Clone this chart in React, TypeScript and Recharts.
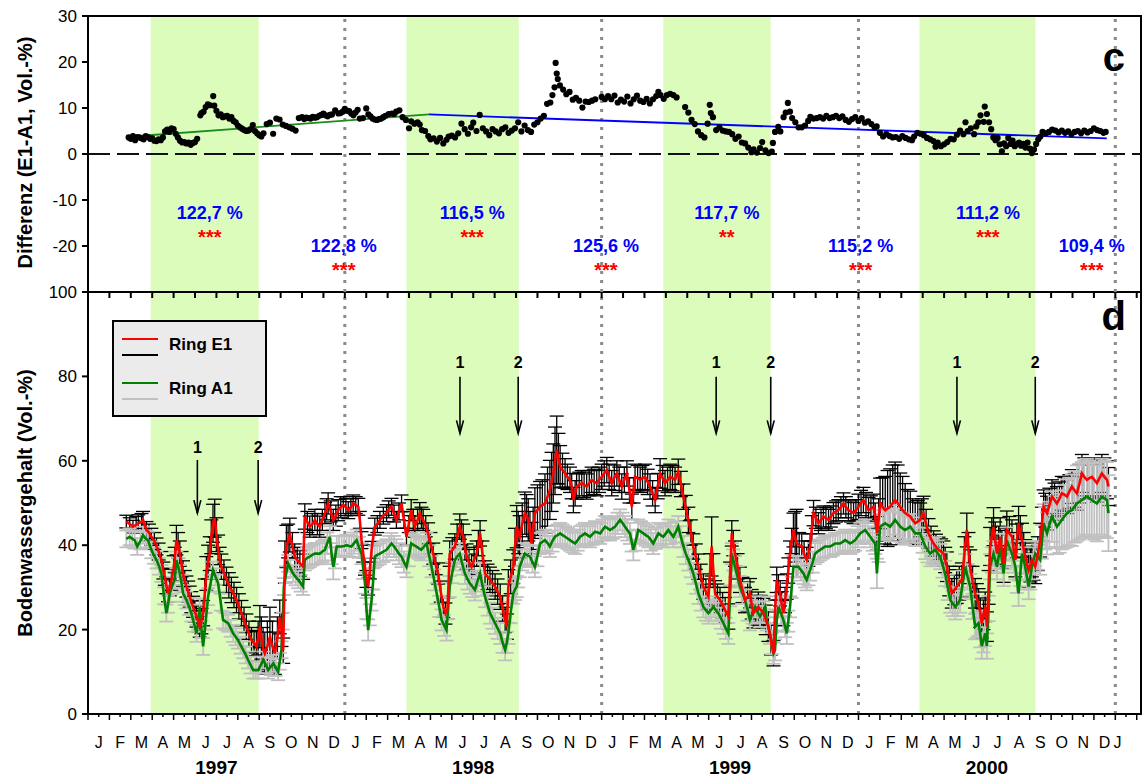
import React from "react";
import {
  ComposedChart,
  Line,
  Scatter,
  XAxis,
  YAxis,
  ReferenceArea,
  ReferenceLine,
  ReferenceDot,
  ErrorBar,
  Legend,
} from "recharts";

const FONT = "'Liberation Sans', Arial, sans-serif";
const W = 1143;
const H = 778;
// x axis: months since 1 Jan 1997
const X_DOMAIN: [number, number] = [0, 49.2];

const seasonStart = [2.93, 14.88, 26.88, 38.85];
const seasonEnd = [7.98, 20.13, 31.9, 44.27];
const yearBreaks = [12, 24, 36, 48];
const monthLetters = ["J", "F", "M", "A", "M", "J", "J", "A", "S", "O", "N", "D"];
const yearLabels = ["1997", "1998", "1999", "2000"];
const yearTicks = [6, 18, 30, 42];
const monthTicks = [...Array.from({ length: 48 }, (_, i) => i + 0.5), 48.1];
const markTicks = Array.from({ length: 99 }, (_, i) => i / 2);
const boundaryTicks = Array.from({ length: 50 }, (_, i) => i);
const bottomTicks = [...markTicks, 48.1].sort((a, b) => a - b);

// panel c: difference E1-A1 [month, Vol.-%]
const diffPoints: [number, number][] = [
  [1.9,3.6],[2.0,3.3],[2.1,3.9],[2.2,3.0],[2.3,3.7],[2.4,3.6],[2.5,3.4],[2.6,3.2],[2.7,3.9],[2.8,3.7],[2.9,3.3],[3.0,3.4],[3.1,2.9],[3.2,2.8],[3.3,3.2],[3.4,3.0],[3.5,3.6],[3.6,4.9],[3.7,5.3],[3.8,4.8],[3.9,5.6],[4.0,5.4],[4.1,4.4],[4.2,3.6],[4.3,2.9],[4.4,2.5],[4.5,2.6],[4.6,2.3],[4.7,2.5],[4.8,2.0],[4.9,2.4],[5.0,2.6],[5.1,3.3],
  [5.25,8.4],[5.3,8.9],[5.4,9.2],[5.5,10.2],[5.6,10.8],[5.7,10.6],[5.85,12.6],[5.9,10.5],[6.0,9.4],[6.1,8.4],[6.2,8.6],[6.3,8.0],[6.4,8.2],[6.5,8.3],[6.6,7.7],[6.7,8.0],[6.8,7.2],[6.9,6.9],[7.0,6.2],[7.1,5.8],[7.2,5.5],[7.3,5.2],[7.4,5.0],[7.5,5.1],[7.6,5.4],[7.7,6.3],[7.8,5.0],[7.9,4.5],[8.0,4.1],[8.1,3.8],[8.2,4.5],[8.35,6.5],[8.5,6.8],[8.65,4.4],[8.8,7.7],[8.95,7.5],[9.1,6.4],[9.25,6.1],[9.4,5.8],[9.55,5.5],[9.7,5.1],[9.85,7.8],
  [10.0,8.0],[10.1,7.6],[10.2,7.9],[10.3,7.8],[10.4,7.7],[10.5,8.1],[10.6,7.9],[10.7,8.0],[10.8,8.3],[10.9,8.5],[11.0,8.8],[11.1,8.4],[11.2,8.2],[11.3,8.5],[11.4,8.6],[11.55,9.5],[11.7,8.8],[11.8,8.9],[11.9,9.2],[12.0,9.8],[12.1,9.4],[12.2,9.3],[12.3,8.8],[12.4,8.4],[12.5,9.0],[12.6,9.6],[12.7,7.7],[12.85,7.8],[13.0,9.9],[13.1,8.6],[13.2,8.2],[13.3,7.7],[13.4,7.5],[13.5,7.4],[13.6,7.6],[13.7,7.7],[13.8,8.0],[13.9,8.3],[14.05,8.7],[14.2,8.8],[14.3,8.7],[14.4,9.2],[14.55,9.5],[14.7,8.0],[14.85,7.4],
  [15.0,5.6],[15.1,7.1],[15.25,6.6],[15.4,6.9],[15.5,6.4],[15.6,5.2],[15.75,5.0],[15.9,3.9],[16.0,3.2],[16.15,3.4],[16.3,2.7],[16.45,3.5],[16.6,2.3],[16.75,3.1],[16.85,3.8],[17.0,4.0],[17.15,3.6],[17.3,4.5],[17.45,6.6],[17.6,5.4],[17.75,4.4],[17.9,5.8],[18.0,6.8],[18.15,5.0],[18.3,8.5],[18.45,5.6],[18.6,4.9],[18.75,4.1],[18.9,5.4],[19.05,4.9],[19.2,4.5],[19.35,5.4],[19.5,5.8],[19.65,4.6],[19.8,5.1],[19.95,5.6],[20.1,6.9],[20.25,4.9],[20.4,6.2],[20.55,5.2],[20.7,4.8],[20.85,6.4],
  [21.0,6.9],[21.15,7.7],[21.3,8.3],[21.45,10.9],[21.6,11.2],[21.7,12.8],[21.8,14.5],[21.85,19.8],[21.9,17.5],[21.95,16.3],[22.05,14.9],[22.2,14.0],[22.35,13.0],[22.5,13.5],[22.65,11.8],[22.8,12.2],[22.95,11.6],[23.1,10.1],[23.25,11.4],[23.4,11.3],[23.55,11.6],[23.7,11.9],[24.0,12.4],[24.15,11.9],[24.3,12.6],[24.45,11.9],[24.6,12.7],[24.75,11.2],[24.9,11.8],[25.05,11.4],[25.2,12.5],[25.35,11.0],[25.5,11.9],[25.65,12.7],[25.8,11.6],[25.95,11.3],[26.1,12.0],[26.25,11.0],[26.4,11.9],[26.55,12.6],[26.65,13.5],[26.75,12.8],[26.9,12.0],[27.05,12.8],[27.2,13.1],[27.35,12.8],[27.5,12.3],
  [27.9,10.2],[28.05,9.0],[28.2,7.4],[28.35,6.5],[28.5,4.9],[28.65,4.1],[28.8,3.6],[28.95,6.6],[29.05,10.7],[29.1,8.9],[29.2,8.0],[29.35,5.2],[29.5,5.8],[29.65,5.1],[29.8,4.9],[29.95,4.8],[30.1,4.3],[30.25,3.3],[30.4,3.8],[30.55,2.5],[30.7,2.3],[30.85,1.4],[31.0,0.4],[31.1,1.0],[31.25,0.3],[31.4,1.3],[31.5,2.6],[31.65,0.8],[31.8,0.2],[31.95,0.5],
  [32.0,2.4],[32.1,4.8],[32.25,5.9],[32.35,4.9],[32.5,8.0],[32.6,9.0],[32.7,11.1],[32.8,9.2],[32.9,7.8],[33.05,6.9],[33.2,5.8],[33.35,5.8],[33.5,6.2],[33.65,7.2],[33.75,8.1],[33.9,7.7],[34.05,7.8],[34.2,8.0],[34.35,7.7],[34.5,8.3],[34.65,7.8],[34.8,8.0],[34.95,8.3],[35.1,7.8],[35.25,8.2],[35.4,7.4],[35.55,7.0],[35.7,7.6],[35.85,8.0],[36.0,7.2],[36.15,7.8],[36.3,6.8],[36.45,7.1],[36.6,6.5],[36.75,5.8],[36.85,6.0],
  [37.0,4.6],[37.15,3.8],[37.3,4.3],[37.45,3.9],[37.6,3.6],[37.75,3.7],[37.9,3.3],[38.05,3.9],[38.2,3.5],[38.35,3.2],[38.5,3.0],[38.6,3.8],[38.75,4.6],[38.9,4.4],[39.05,4.1],[39.2,3.5],[39.35,3.2],[39.5,2.8],[39.6,1.6],[39.7,2.5],[39.85,1.7],[40.0,2.1],[40.15,2.6],[40.3,3.3],[40.45,3.2],[40.6,4.2],[40.75,5.1],[40.9,4.3],[41.0,6.9],[41.1,5.0],[41.25,5.6],[41.4,4.3],[41.5,6.0],[41.6,6.9],[41.7,8.4],[41.85,7.0],[41.9,10.3],[42.0,8.7],[42.1,6.9],[42.2,5.4],[42.3,3.6],[42.4,3.0],[42.5,3.5],[42.6,2.1],[42.7,0.6],[42.8,2.3],[42.9,1.7],
  [43.0,3.5],[43.1,2.2],[43.2,2.9],[43.3,1.7],[43.4,2.1],[43.5,2.5],[43.6,1.8],[43.7,2.2],[43.8,1.4],[43.9,2.5],[44.0,1.2],[44.1,0.2],[44.2,1.0],[44.3,2.2],[44.4,3.2],[44.5,3.8],[44.6,4.8],[44.75,4.5],[44.9,4.8],[45.05,5.3],[45.2,5.1],[45.35,4.7],[45.5,5.1],[45.65,4.6],[45.8,4.9],[45.95,4.3],[46.1,4.8],[46.25,5.0],[46.4,4.5],[46.55,5.1],[46.7,4.7],[46.85,5.0],[47.0,5.6],[47.15,5.2],[47.3,5.0],[47.45,4.6],[47.55,4.8],
];

// regression lines in panel c
const trendGreen: [number, number][] = [[2.04, 3.8], [15.93, 8.6]];
const trendBlue: [number, number][] = [[15.93, 8.6], [47.6, 3.4]];

// relative differences (E1/A1) per half year
const pctLabels = ["122,7 %", "122,8 %", "116,5 %", "125,6 %", "117,7 %", "115,2 %", "111,2 %", "109,4 %"];
const pctStars = ["***", "***", "***", "***", "**", "***", "***", "***"];
const pctMonths = [5.69, 11.95, 17.95, 24.2, 29.85, 36.1, 42.05, 46.9];
const pctY = [-12.8, -20, -12.8, -20, -12.8, -20, -12.8, -20];
const starY = [-18.0, -25.15, -18.0, -25.15, -18.0, -25.15, -18.0, -25.15];

// panel d: Ring E1 [month, mean, sd]
const e1Points: [number, number, number][] = [
  [1.79,45.6,1.5],[1.95,45.0,1.5],[2.1,44.4,1.5],[2.25,44.8,2],[2.35,45.2,2],[2.5,45.5,2],[2.57,46.0,2],[2.73,43.6,2],[2.85,43,2],[2.96,42.0,2],[3.1,41,2],[3.2,39.7,2],[3.3,38.5,2],[3.43,36.5,2],[3.52,34,2],[3.59,32.5,2],[3.66,30.5,2],[3.74,28.6,2],[3.82,30,2],[3.9,31.8,2.5],[4.0,34.5,3],[4.05,36.5,3],[4.13,41.2,3.5],[4.21,40,3],[4.29,38.0,3],[4.37,35.5,3],[4.44,33.3,3],[4.52,31.5,2.5],[4.6,30.2,2.5],[4.68,29,2.5],[4.75,27.8,2.5],[4.83,26.5,2.5],[4.91,25.4,2.5],[4.99,24.3,2.5],[5.07,23.1,2.5],[5.15,22,2.5],[5.22,20.7,2.5],[5.3,22,3],[5.38,23.9,3],[5.45,28,4],[5.53,33.3,4],[5.61,36,4],[5.69,38.0,4],[5.76,42,4],[5.84,45.2,4.5],[5.92,46.4,4.5],[6.0,42.5,4],
  [6.08,38.9,3.5],[6.15,36.5,3],[6.23,34.9,3],[6.35,33.5,3],[6.47,31.8,3],[6.58,30.5,3],[6.7,29.4,3],[6.82,28.2,3],[6.94,27.0,3],[7.05,25.5,3],[7.17,23.9,3],[7.29,22.3,3],[7.4,20.7,3],[7.52,19,3],[7.64,17.5,3],[7.76,16.8,3],[7.87,16.0,3.5],[7.95,18,4],[8.03,20.7,5],[8.1,18,5],[8.18,15.5,5],[8.26,14.4,5],[8.38,16,6],[8.5,18.3,7],[8.62,16,6],[8.73,14.4,5],[8.85,18,5],[8.96,23.0,4],[9.04,20,4],[9.12,15,3],[9.2,36,5],[9.27,39.7,5],[9.35,41,4],[9.43,42.4,4],[9.55,40,3],[9.66,37.3,3],[9.78,36.5,3],[9.9,35.7,3],[10.05,34.9,3],
  [10.13,46.8,3],[10.25,45.5,2.5],[10.36,44.4,2.5],[10.48,45,2.5],[10.6,46.0,2.5],[10.72,45,2.5],[10.83,44.4,2.5],[10.95,46,2.5],[11.07,47.6,2.5],[11.15,48.5,2.5],[11.22,49.9,2.5],[11.34,48,2.5],[11.46,46.0,2.5],[11.58,47,2.5],[11.69,48.3,2.5],[11.81,49,2.5],[11.93,49.5,2],[12.05,49,2],[12.16,48.3,2],[12.28,49,2],[12.39,49.9,2],[12.51,49.5,2],[12.63,49.1,2],[12.7,46,2],[12.78,41.2,2],[12.86,38,2],[12.94,34.9,2],[13.01,32,2],[13.09,30.2,2],[13.17,34,2],[13.25,38.9,2],[13.33,42,2],[13.4,44.4,2],[13.52,45,2],[13.64,46.0,2],
  [13.8,47,2],[13.95,47.6,2],[14.05,48.5,2],[14.18,49.1,2],[14.3,47.5,2],[14.41,46.0,2],[14.53,48,2],[14.65,49.9,2],[14.76,46,2],[14.88,42.0,2],[14.99,45,2],[15.1,48.3,2.5],[15.2,46,2.5],[15.27,44.4,2.5],[15.4,46,2.5],[15.5,47.6,2.5],[15.58,46.5,2.5],[15.66,46.0,2.5],[15.78,44.5,2.5],[15.89,42.8,2.5],[16.0,40.5,2.5],[16.13,38.0,2.5],[16.25,35.5,2.5],[16.36,33.3,2.5],[16.48,29,2.5],[16.6,25.4,2.5],[16.7,23.8,2.5],[16.8,25,2.5],[16.9,38.0,3],[17.02,38.8,3],[17.14,39.7,3],[17.25,42,3],[17.37,44.4,3],[17.45,43,3],[17.53,42.0,3],[17.61,39.5,3],[17.69,37.3,3],[17.8,36,3],[17.92,34.9,3],[18.04,36.5,3],[18.16,38.0,3],[18.24,40.5,3],[18.32,42.8,3],[18.43,38,3],[18.55,33.3,3],[18.67,32.5,3],[18.78,31.8,3],[18.9,31,3],[19.02,30.2,3],[19.14,29,3],[19.26,27.8,3],[19.37,25,3],[19.49,22.3,3],[19.57,20.7,3],
  [19.64,30.2,4],[19.75,32.5,4],[19.87,34.9,4],[19.95,39.5,4.5],[20.03,44.4,5],[20.1,43,5],[20.17,42.0,5],[20.29,45,5],[20.41,47.6,5],[20.49,47,5],[20.57,46.0,5],[20.65,43,5],[20.73,40.4,5],[20.8,44,5],[20.88,47.6,6],[21.0,48.3,6],[21.12,49.1,6],[21.23,49.5,6],[21.35,49.9,7],[21.47,51.5,7],[21.58,53.1,7],[21.66,55,7],[21.74,57.0,7],[21.82,60,8],[21.9,62.6,8],[21.98,60.5,6],[22.06,58.6,5],[22.17,57.8,4],[22.29,57.0,3.5],[22.4,56.2,3],[22.52,55.5,3],[22.6,54,3],[22.68,50.7,3],[22.76,52.3,3],[22.83,53.9,3],[22.95,54.3,3],[23.07,54.7,3],[23.18,54.3,3],[23.3,53.9,3],[23.42,54.7,3],[23.53,55.5,3],[23.65,55,3],[23.77,54.7,3],[23.88,55.5,3],
  [24.0,56.2,3],[24.12,57,3],[24.24,57.8,3],[24.35,56.2,3],[24.47,54.7,3],[24.59,56,3],[24.71,57.0,3],[24.82,55.5,3],[24.94,53.9,3],[25.06,55.5,3],[25.18,57.0,3],[25.3,53,3],[25.41,49.1,3],[25.49,53,3],[25.56,56.2,3],[25.68,55.9,3],[25.8,55.5,3],[25.91,55.9,3],[26.03,56.2,3],[26.15,55,3],[26.26,53.9,3],[26.38,52.3,3],[26.5,50.7,3],[26.62,54,3],[26.73,57.0,3.5],[26.85,55.9,3],[26.96,54.7,3],[27.08,55.5,3],[27.2,56.2,3],[27.31,55.9,3],[27.43,55.5,3],[27.58,57.4,3],[27.7,54.5,3],[27.82,51.5,3],[27.93,48.8,3],[28.05,46.0,3],[28.17,43,3],[28.28,39.7,3],[28.4,37.3,3],[28.52,34.9,3],[28.63,32.5,3],[28.75,30.2,3],[28.87,29,3],[28.99,27.8,3],[29.07,34,4],[29.14,39.7,7],[29.22,34,4],[29.3,28.6,3],[29.41,27.8,3],[29.53,27.0,3],[29.65,25.8,3],[29.77,24.6,3],[29.92,23.1,3],
  [30.0,33,3],[30.08,42.8,3],[30.15,40.5,3],[30.23,38.0,3],[30.35,35,3],[30.46,31.8,3],[30.58,29.4,3],[30.7,27.0,3],[30.82,27.8,3.5],[30.93,28.6,3.5],[31.01,26,3.5],[31.09,23.9,3.5],[31.2,24.6,3.5],[31.32,25.4,3.5],[31.44,24.6,3.5],[31.56,23.9,3.5],[31.67,22.3,3.5],[31.79,20.7,3.5],[31.91,17.5,3.5],[32.03,14.4,3],[32.1,24,3],[32.18,31.8,3],[32.26,30,3],[32.34,28.6,3],[32.41,26,3],[32.49,23.9,3],[32.57,27,3],[32.65,30.2,3],[32.72,34,3],[32.8,38.0,3],[32.88,41,3],[32.96,43.6,4],[33.04,42,6],[33.11,40.5,8],[33.23,40,3],[33.35,39.7,3],[33.46,38,3],[33.58,36.5,3],[33.66,38,3],[33.74,39.7,3],[33.82,44,3],[33.9,47.6,3],
  [34.01,46.5,2.5],[34.13,45.2,2.5],[34.25,46,2.5],[34.36,46.8,2.5],[34.48,46.4,2.5],[34.6,46.0,2.5],[34.71,46.8,2.5],[34.83,47.6,2.5],[34.95,48,2.5],[35.06,48.3,2.5],[35.18,49,2.5],[35.3,49.9,2.5],[35.41,49,2.5],[35.53,48.3,2.5],[35.65,48,2.5],[35.77,47.6,2.5],[35.88,48.3,2.5],[36.0,49.1,3],[36.12,50,3],[36.23,50.7,3],[36.35,49.5,3],[36.47,48.3,3],[36.58,48.7,3],[36.7,49.1,3],[36.78,47,3],[36.86,42.8,4],[36.94,46,5],[37.01,49.9,6],[37.13,49,7],[37.25,48.3,8],[37.36,48.7,9],[37.48,49.1,9],[37.6,50,9],[37.71,50.7,9],[37.83,50,9],[37.95,49.1,8],[38.06,48.3,8],[38.18,47.6,7],[38.3,47.2,6],[38.42,46.8,6],[38.53,46,5],[38.65,45.2,5],[38.77,45.6,5],[38.88,46.0,4],[38.96,47,4],[39.04,47.6,4],
  [39.16,45,3.5],[39.27,42.8,3.5],[39.39,41.5,3],[39.51,40.4,3],[39.62,39.6,3],[39.74,38.9,3],[39.86,38.5,3],[39.97,38.0,3],[40.05,36.5,3],[40.13,34.9,3.5],[40.24,31.5,3.5],[40.36,28.6,3.5],[40.48,29.4,3.5],[40.59,30.2,4],[40.71,31,4],[40.83,31.8,4],[40.95,38,4],[41.06,43.6,4],[41.14,39,4],[41.22,34.9,4],[41.33,31.5,3.5],[41.45,28.6,3.5],[41.53,27.4,3.5],[41.61,26.2,3.5],[41.69,24,3.5],[41.76,21.5,3.5],[41.84,23.5,3.5],[41.92,25.4,3.5],[42.0,20.7,3.5],[42.08,30,4],[42.15,39.7,4.5],[42.23,42,4.5],[42.31,44.4,4.5],[42.39,41,4.5],[42.47,38.0,4.5],[42.55,40,4.5],[42.62,42.0,4.5],[42.7,39,4.5],[42.78,35.7,4.5],[42.86,39.5,4.5],[42.93,43.6,4.5],
  [43.05,42.8,4],[43.17,42.0,4],[43.25,39,4],[43.33,36.5,4],[43.4,41,4],[43.48,45.2,4],[43.56,43,4],[43.64,41.2,4],[43.72,39,4],[43.79,37.3,4],[43.87,35.7,4],[43.95,34.1,4],[44.03,35.3,4],[44.1,36.5,4],[44.18,35.7,4],[44.26,34.9,4],[44.38,38,4],[44.49,41.2,4],[44.57,45,4],[44.65,49.1,4],[44.73,48.3,4],[44.81,47.6,4],[44.92,49.5,4],[45.04,51.5,4],[45.16,50.7,4],[45.27,49.9,4],[45.39,51,4],[45.5,52.3,4],[45.62,52,4],[45.74,51.5,4],[45.85,52.7,4],[45.97,53.9,4],[46.09,53,4],[46.2,52.3,4],[46.32,54.5,4.5],[46.44,57.0,4.5],[46.55,56.2,4.5],[46.67,55.5,4.5],[46.79,55.9,4.5],[46.9,56.2,4.5],[47.02,55.5,4.5],[47.14,54.7,4.5],[47.26,55.9,4.5],[47.37,57.0,4.5],[47.49,56.2,4.5],[47.61,55.5,4.5],[47.68,53.9,4.5],
];

// panel d: Ring A1 [month, mean, sd]
const a1Points: [number, number, number][] = [
  [1.79,41.5,2],[1.95,42.0,2],[2.07,41.5,2],[2.18,41.2,2],[2.3,39.7,2],[2.45,41,2],[2.57,42.4,2],[2.7,41.5,2],[2.8,41.2,2],[2.96,38.9,2],[3.08,37.6,2],[3.2,36.5,2],[3.32,35,2],[3.43,33.3,2],[3.55,28,2],[3.66,23.9,2],[3.74,26,2],[3.82,28.6,2],[3.94,30.5,2],[4.05,31.8,2],[4.13,36.5,2],[4.21,35,2],[4.29,33.3,2],[4.37,31,2],[4.44,28.6,2],[4.52,27.8,2],[4.6,27.0,2],[4.72,25.5,2],[4.83,23.9,2],[4.95,21.5,2],[5.07,19.1,2],[5.15,22,2],[5.22,25.4,2],[5.3,20,2],[5.38,16.0,2],[5.5,22,2],[5.61,27.8,2],[5.73,31,2],[5.84,34.1,2],[5.96,32.5,2],
  [6.08,31.0,2],[6.2,26.5,2],[6.31,22.3,2],[6.43,21.9,2],[6.55,21.5,2],[6.67,20.3,2],[6.78,19.1,2],[6.9,18.3,2],[7.01,17.5,2],[7.13,16.3,2],[7.25,15.2,2],[7.37,14,2],[7.48,12.8,2],[7.6,11.6,2],[7.72,10.4,2],[7.84,10.4,2],[7.96,10.4,2],[8.07,11.6,2],[8.19,12.8,2],[8.31,11.6,2],[8.42,10.4,2],[8.54,11.2,2],[8.66,12.0,2],[8.77,11,2],[8.88,10.0,2],[8.96,12.5,2],[9.04,15.2,2],[9.1,22,2],[9.15,30.2,2],[9.25,33,2],[9.35,35.7,2],[9.46,34.5,2],[9.58,33.3,2],[9.7,32.5,2],[9.82,31.8,2],[9.94,31,2],[10.05,30.2,2],
  [10.13,36.5,2.5],[10.25,37,2.5],[10.36,37.3,2.5],[10.48,37.7,2.5],[10.6,38.0,2.5],[10.72,38,2.5],[10.83,38.0,2.5],[10.95,38.5,2.5],[11.07,38.9,2.5],[11.18,40.5,2.5],[11.3,42.0,2.5],[11.38,38,2.5],[11.46,34.9,3],[11.54,37,2.5],[11.62,39.7,2.5],[11.73,39.7,2.5],[11.85,39.7,2.5],[11.97,39.8,2.5],[12.08,40.0,2.5],[12.2,39.8,2.5],[12.31,39.7,2.5],[12.43,40.5,2.5],[12.55,41.2,2.5],[12.66,39.5,2.5],[12.78,38.0,2.5],[12.86,34.5,2.5],[12.94,31.0,2.5],[13.01,25,2.5],[13.09,19.9,2.5],[13.17,23.5,2.5],[13.25,27.0,2.5],[13.33,32,2.5],[13.4,37.3,2.5],[13.52,37.7,2.5],[13.64,38.0,2.5],
  [13.8,38.5,2.5],[13.95,38.9,2.5],[14.07,39.7,2.5],[14.18,40.4,2.5],[14.3,39.7,2.5],[14.41,38.9,2.5],[14.53,38,2.5],[14.65,37.3,2.5],[14.76,36,2.5],[14.88,34.9,2.5],[14.99,37.5,2.5],[15.1,40.4,2.5],[15.22,40,2.5],[15.33,39.7,2.5],[15.45,39.3,2.5],[15.57,38.9,2.5],[15.7,39.7,2.5],[15.82,40.4,2.5],[15.94,37.5,2.5],[16.05,34.9,2.5],[16.17,31.8,2.5],[16.29,28.6,2.5],[16.41,25.5,2.5],[16.52,22.3,2.5],[16.64,21,2.5],[16.75,19.9,2.5],[16.83,25,2.5],[16.9,30.2,2.5],[17.02,33.5,2.5],[17.14,36.5,2.5],[17.25,37.3,2.5],[17.37,38.0,2.5],[17.49,35.5,2.5],[17.61,33.3,2.5],[17.73,32,2.5],[17.84,31.0,2.5],[17.96,30.2,2.5],[18.08,29.4,2.5],[18.2,31.5,2.5],[18.32,33.3,2.5],[18.43,30.5,2.5],[18.55,27.8,2.5],[18.67,25.8,2.5],[18.78,23.9,2.5],[18.9,22.7,2.5],[19.02,21.5,2.5],[19.14,20.3,2.5],[19.26,19.1,2.5],[19.37,17,2.5],[19.49,15.2,2.5],[19.57,17,2.5],
  [19.64,19.1,2.5],[19.75,24,2.5],[19.87,28.6,2.5],[19.95,29.5,2.5],[20.03,30.2,2.5],[20.1,32.5,2.5],[20.17,34.9,2.5],[20.29,36.5,2.5],[20.41,38.0,2.5],[20.53,37.6,2.5],[20.65,37.3,2.5],[20.77,36,2.5],[20.88,34.9,2.5],[21.0,37.5,2.5],[21.12,40.4,2.5],[21.23,40.8,2.5],[21.35,41.2,2.5],[21.47,40.5,2.5],[21.58,39.7,2.5],[21.7,41,2.5],[21.82,42.0,2.5],[21.94,42.4,2.5],[22.06,42.8,2.5],[22.17,42.4,2.5],[22.29,42.0,2.5],[22.41,41.6,2.5],[22.52,41.2,2.5],[22.64,40.8,2.5],[22.76,40.4,2.5],[22.88,41.2,2.5],[22.99,42.0,2.5],[23.11,42.4,2.5],[23.22,42.8,2.5],[23.34,42.4,2.5],[23.46,42.0,2.5],[23.57,42.6,2.5],[23.69,43.2,2.5],[23.81,43,2.5],[23.93,42.8,2.5],
  [24.04,43.6,2.5],[24.16,44.4,2.5],[24.28,44,2.5],[24.39,43.6,2.5],[24.51,44,2.5],[24.63,44.4,2.5],[24.74,45.2,2.5],[24.86,46.0,2.5],[24.98,45.2,2.5],[25.09,44.4,2.5],[25.2,43.6,2.5],[25.32,42.8,2.5],[25.4,41,2.5],[25.48,38.9,2.5],[25.6,41.2,2.5],[25.71,43.6,2.5],[25.83,43.2,2.5],[25.95,42.8,2.5],[26.06,42.4,2.5],[26.18,42.0,2.5],[26.3,41.2,2.5],[26.41,40.4,2.5],[26.53,41.6,2.5],[26.65,42.8,2.5],[26.76,42.4,2.5],[26.88,42.0,2.5],[27.0,42.8,2.5],[27.12,43.6,2.5],[27.23,42.8,2.5],[27.35,42.0,2.5],[27.47,43.2,2.5],[27.58,44.4,2.5],[27.7,42,2.5],[27.82,39.7,2.5],[27.93,38,2.5],[28.05,36.5,2.5],[28.17,34.9,2.5],[28.28,33.3,2.5],[28.4,31,2.5],[28.52,28.6,2.5],[28.63,27,2.5],[28.75,25.4,2.5],[28.87,24.6,2.5],[28.99,23.9,2.5],[29.1,24.6,2.5],[29.22,25.4,2.5],[29.33,24.6,2.5],[29.45,23.9,2.5],[29.57,22.7,2.5],[29.69,21.5,2.5],[29.8,20.3,2.5],[29.92,19.1,2.5],
  [30.0,28,2.5],[30.08,38.0,2.5],[30.15,36.5,2.5],[30.23,34.9,2.5],[30.35,32.5,2.5],[30.46,30.2,2.5],[30.58,28.6,2.5],[30.7,27.0,2.5],[30.82,24.6,2.5],[30.93,22.3,2.5],[31.05,23.9,2.5],[31.17,25.4,2.5],[31.28,24.2,2.5],[31.4,23.1,2.5],[31.52,24.2,2.5],[31.64,25.4,2.5],[31.71,22.3,2.5],[31.87,19.1,2.5],[31.95,16.7,2.5],[32.03,14.4,2.5],[32.1,15.2,2.5],[32.18,22,2.5],[32.26,25.4,2.5],[32.38,23.8,2.5],[32.49,22.3,2.5],[32.57,20.7,2.5],[32.65,19.1,2.5],[32.72,22,2.5],[32.8,25.4,2.5],[32.88,30,2.5],[32.96,34.9,2.5],[33.08,34.9,2.5],[33.19,34.9,2.5],[33.31,34.1,2.5],[33.43,33.3,2.5],[33.5,32.5,2.5],[33.58,31.8,2.5],[33.66,33,2.5],[33.74,34.1,2.5],[33.86,36,2.5],[33.97,38.0,2.5],
  [34.09,38.5,2.5],[34.21,38.9,2.5],[34.33,39.3,2.5],[34.44,39.7,2.5],[34.56,39.7,2.5],[34.67,39.7,2.5],[34.79,40,2.5],[34.91,40.4,2.5],[35.03,40.4,2.5],[35.14,40.4,2.5],[35.26,40.8,2.5],[35.38,41.2,2.5],[35.5,40.8,2.5],[35.61,40.4,2.5],[35.73,40.8,2.5],[35.85,41.2,2.5],[35.96,42,2.5],[36.08,42.8,2.5],[36.2,43.2,2.5],[36.31,43.6,2.5],[36.43,42.8,2.5],[36.55,42.0,2.5],[36.66,41.2,2.5],[36.78,40.4,2.5],[36.86,33.3,3.5],[36.94,39,3],[37.01,44.4,3],[37.13,44.8,3.5],[37.25,45.2,3.5],[37.36,44.8,3.5],[37.48,44.4,3.5],[37.6,45.2,3.5],[37.71,46.0,3.5],[37.83,45.2,3.5],[37.95,44.4,3.5],[38.06,44,3.5],[38.18,43.6,3.5],[38.3,44,3],[38.42,44.4,3],[38.53,43.6,3],[38.65,42.8,3],[38.77,42.8,3],[38.88,42.8,3],
  [39.0,41.2,3],[39.12,39.7,3],[39.23,38.9,3],[39.35,38.0,3],[39.47,38.5,3],[39.58,38.9,3],[39.7,38.1,3],[39.82,37.3,3],[39.93,35.3,3],[40.05,33.3,3],[40.17,30,3],[40.29,27.0,3],[40.4,26.2,3],[40.52,25.4,3],[40.64,26.2,3],[40.75,27.0,3],[40.87,31,3],[40.99,34.9,3],[41.1,32.5,3],[41.22,30.2,3],[41.33,25.5,3],[41.45,20.7,3],[41.53,21.1,3],[41.61,21.5,3],[41.69,18.8,3],[41.76,16.1,3],[41.84,17.6,3],[41.92,19.1,3],[42.0,16.1,3],[42.08,25,3],[42.15,34.9,3],[42.23,36.5,3],[42.31,38.0,3],[42.39,36.5,3],[42.47,34.9,3],[42.55,37.3,3],[42.62,39.7,3],[42.7,36.5,3],[42.78,33.3,3],[42.86,37.3,3],[42.93,41.2,3],
  [43.05,39.6,3],[43.17,38.0,3],[43.25,36.5,3],[43.33,34.9,3],[43.4,31.7,3],[43.48,28.6,3],[43.56,33.3,3],[43.64,38.0,3],[43.72,36.5,3],[43.79,34.9,3],[43.87,32.5,3],[43.95,30.2,3],[44.03,32.5,3],[44.1,34.9,3],[44.18,36.5,3],[44.26,38.0,3],[44.38,37.2,3],[44.49,36.5,3.5],[44.57,40.8,4],[44.65,45.2,4.5],[44.73,44,5],[44.81,42.8,5],[44.92,44.8,5.5],[45.04,46.8,6],[45.16,45.6,6],[45.27,44.4,6.5],[45.39,45.2,7],[45.5,46.0,7],[45.62,46.8,7.5],[45.74,47.6,8],[45.85,48,8],[45.97,48.3,8.5],[46.09,49.1,8.5],[46.2,49.9,9],[46.32,50.3,9],[46.44,50.7,9],[46.55,51.1,9],[46.67,51.5,9],[46.79,51.1,9],[46.9,50.7,9],[47.02,50.3,9],[47.14,49.9,9],[47.26,50.7,9],[47.37,51.5,9],[47.49,51.1,9],[47.61,50.7,9],[47.68,47.6,9],
];

// fumigation arrows in panel d
const arrowText = ["1", "2", "1", "2", "1", "2", "1", "2"];
const arrowMonths = [5.11, 7.95, 17.38, 20.1, 29.35, 31.9, 40.6, 44.26];
const arrowTop = [60.2, 60.2, 79.9, 79.9, 79.9, 79.9, 79.9, 79.9];
const arrowTip = [47.6, 47.6, 66.5, 66.5, 66.5, 66.5, 66.5, 66.5];
const arrowTextY = [63.2, 63.2, 83.4, 83.4, 83.4, 83.4, 83.4, 83.4];

const diffRows = diffPoints.map(([m, v]) => ({ m, v }));
const greenRows = trendGreen.map(([m, v]) => ({ m, v }));
const blueRows = trendBlue.map(([m, v]) => ({ m, v }));
const e1Rows = e1Points.map(([m, v, err]) => ({ m, v, err }));
const a1Rows = a1Points.map(([m, v, err]) => ({ m, v, err }));

const SEASON_FILL = "#dcfcbc";

function AxisTitle(props: any) {
  const { viewBox, value, shift = 0 } = props;
  const cx = viewBox.x + 15;
  const cy = viewBox.y + viewBox.height / 2 + shift;
  return (
    <text
      x={cx}
      y={cy}
      transform={`rotate(-90 ${cx} ${cy})`}
      textAnchor="middle"
      dominantBaseline="central"
      fontFamily={FONT}
      fontSize={20}
      fontWeight="bold"
      fill="#000"
    >
      {value}
    </text>
  );
}

function PointText(props: any) {
  const { viewBox, value, color = "#000", size = 16, weight = "bold" } = props;
  const x = viewBox.x + (viewBox.width || 0) / 2;
  const y = viewBox.y + (viewBox.height || 0) / 2;
  return (
    <text x={x} y={y} textAnchor="middle" dominantBaseline="central" fontFamily={FONT} fontSize={size} fontWeight={weight} fill={color}>
      {value}
    </text>
  );
}

function Arrow(props: any) {
  const { x1, y1, x2, y2 } = props;
  return (
    <g stroke="#000" strokeWidth={1.6} fill="none">
      <line x1={x1} y1={y1} x2={x2} y2={y2} />
      <polyline points={`${x2 - 3.5},${y2 - 13} ${x2},${y2} ${x2 + 3.5},${y2 - 13}`} />
    </g>
  );
}

// bottom axis: month tick marks, month letters and year labels
function BottomTick(props: any) {
  const { x, y, payload } = props;
  const v = payload.value;
  const items: React.ReactNode[] = [];
  if (markTicks.includes(v)) {
    const len = Number.isInteger(v) ? 6 : 3;
    items.push(<line key="t" x1={x} x2={x} y1={y} y2={y + len} stroke="#000" strokeWidth={1.5} />);
  }
  const mi = monthTicks.indexOf(v);
  if (mi >= 0) {
    items.push(
      <text key="m" x={x} y={y + 28} textAnchor="middle" dominantBaseline="central" fontFamily={FONT} fontSize={16} fill="#000">
        {monthLetters[Math.floor(v) % 12]}
      </text>
    );
  }
  const yi = yearTicks.indexOf(v);
  if (yi >= 0) {
    items.push(
      <text key="y" x={x} y={y + 53} textAnchor="middle" dominantBaseline="central" fontFamily={FONT} fontSize={19} fontWeight="bold" fill="#000">
        {yearLabels[yi]}
      </text>
    );
  }
  return <g>{items}</g>;
}

function DownTick(props: any) {
  const { x, y } = props;
  return <line x1={x} x2={x} y1={y} y2={y + 6} stroke="#000" strokeWidth={2} />;
}

function Dot(props: any) {
  return <circle cx={props.cx} cy={props.cy} r={3.1} fill="#000" />;
}

const legendItems = [
  { label: "Ring E1", line: "#ff0000", bar: "#000000" },
  { label: "Ring A1", line: "#008000", bar: "#c0c0c0" },
];

function LegendBox() {
  return (
    <div
      style={{
        width: 151,
        height: 93,
        border: "2px solid #000",
        background: "#ebebeb",
        fontFamily: FONT,
        boxSizing: "content-box",
      }}
    >
      {legendItems.map((it, i) => (
        <div key={it.label} style={{ position: "relative", height: 44, marginTop: i === 0 ? 7 : 0 }}>
          <div style={{ position: "absolute", left: 8, top: 9, width: 36, height: 2, background: it.line }} />
          <div style={{ position: "absolute", left: 8, top: 25, width: 36, height: 2, background: it.bar }} />
          <div style={{ position: "absolute", left: 55, top: 6, fontSize: 17, fontWeight: "bold", lineHeight: "20px" }}>{it.label}</div>
        </div>
      ))}
    </div>
  );
}

const tickStyle = { fontSize: 17, fill: "#000", fontFamily: FONT };

export default function App() {
  return (
    <div style={{ position: "absolute", left: 0, top: 0, width: W, height: H, background: "#fff" }}>
      {/* panel d */}
      <div style={{ position: "absolute", left: 0, top: 0 }}>
        <ComposedChart width={W} height={H} margin={{ top: 292, right: 2, bottom: 0, left: 10 }}>
          <XAxis
            type="number"
            dataKey="m"
            domain={X_DOMAIN}
            allowDataOverflow
            ticks={bottomTicks}
            interval={0}
            tickLine={false}
            tickSize={0}
            tickMargin={0}
            tick={<BottomTick />}
            height={64}
            axisLine={{ stroke: "#000", strokeWidth: 2 }}
          />
          <YAxis
            type="number"
            domain={[0, 100]}
            ticks={[0, 20, 40, 60, 80, 100]}
            interval={0}
            width={78}
            tick={tickStyle}
            tickSize={6}
            tickMargin={5}
            tickLine={{ stroke: "#000", strokeWidth: 2 }}
            axisLine={{ stroke: "#000", strokeWidth: 2 }}
            label={<AxisTitle value="Bodenwassergehalt (Vol.-%)" shift={0} />}
          />
          {seasonStart.map((s, i) => (
            <ReferenceArea key={`sd${i}`} x1={s} x2={seasonEnd[i]} fill={SEASON_FILL} fillOpacity={1} stroke="none" />
          ))}
          {yearBreaks.map((x) => (
            <ReferenceLine key={`yd${x}`} x={x} stroke="#8a8a8a" strokeWidth={3} strokeDasharray="3 6" />
          ))}
          <Line data={e1Rows} dataKey="v" stroke="none" dot={false} isAnimationActive={false}>
            <ErrorBar dataKey="err" width={7} stroke="#000" strokeWidth={1.3} />
          </Line>
          <Line data={a1Rows} dataKey="v" stroke="none" dot={false} isAnimationActive={false}>
            <ErrorBar dataKey="err" width={7} stroke="#c0c0c0" strokeWidth={1.8} />
          </Line>
          <Line data={a1Rows} dataKey="v" stroke="#008000" strokeWidth={2.6} dot={false} isAnimationActive={false} />
          <Line data={e1Rows} dataKey="v" stroke="#ff0000" strokeWidth={2.6} dot={false} isAnimationActive={false} />
          {arrowMonths.map((m, i) => (
            <ReferenceLine
              key={`ar${i}`}
              segment={[{ x: m, y: arrowTop[i] }, { x: m, y: arrowTip[i] }]}
              shape={<Arrow />}
            />
          ))}
          {arrowMonths.map((m, i) => (
            <ReferenceDot
              key={`at${i}`}
              x={m}
              y={arrowTextY[i]}
              r={0}
              fill="none"
              stroke="none"
              label={<PointText value={arrowText[i]} size={16} />}
            />
          ))}
          <ReferenceDot x={47.93} y={94.4} r={0} fill="none" stroke="none" label={<PointText value="d" size={40} />} />
          <ReferenceArea x1={X_DOMAIN[0]} x2={X_DOMAIN[1]} y1={0} y2={100} fill="none" stroke="#000" strokeWidth={2} />
          <Legend
            layout="horizontal"
            verticalAlign="middle"
            align="center"
            content={<LegendBox />}
            wrapperStyle={{ position: "absolute", left: 112, top: 320, width: 155, height: 97 }}
          />
        </ComposedChart>
      </div>

      {/* panel c */}
      <div style={{ position: "absolute", left: 0, top: 0 }}>
        <ComposedChart width={W} height={H} margin={{ top: 16, right: 2, bottom: H - 292 - 8, left: 10 }}>
          <XAxis
            type="number"
            dataKey="m"
            domain={X_DOMAIN}
            allowDataOverflow
            ticks={boundaryTicks}
            interval={0}
            tickLine={false}
            tickSize={0}
            tickMargin={0}
            tick={<DownTick />}
            axisLine={false}
            height={8}
          />
          <YAxis
            type="number"
            domain={[-30, 30]}
            ticks={[-20, -10, 0, 10, 20, 30]}
            interval={0}
            width={78}
            tick={tickStyle}
            tickSize={6}
            tickMargin={5}
            tickLine={{ stroke: "#000", strokeWidth: 2 }}
            axisLine={{ stroke: "#000", strokeWidth: 2 }}
            label={<AxisTitle value="Differenz (E1-A1, Vol.-%)" shift={-1.5} />}
          />
          {seasonStart.map((s, i) => (
            <ReferenceArea key={`sc${i}`} x1={s} x2={seasonEnd[i]} fill={SEASON_FILL} fillOpacity={1} stroke="none" />
          ))}
          {yearBreaks.map((x) => (
            <ReferenceLine key={`yc${x}`} x={x} stroke="#8a8a8a" strokeWidth={3} strokeDasharray="3 6" />
          ))}
          <ReferenceLine y={0} stroke="#111" strokeWidth={2.2} strokeDasharray="22 7" />
          <Scatter data={diffRows} dataKey="v" shape={<Dot />} isAnimationActive={false} />
          <Line data={greenRows} dataKey="v" stroke="#1a8c1a" strokeWidth={1.8} dot={false} isAnimationActive={false} />
          <Line data={blueRows} dataKey="v" stroke="#0000ff" strokeWidth={1.8} dot={false} isAnimationActive={false} />
          {pctMonths.map((m, i) => (
            <ReferenceDot key={`p${i}`} x={m} y={pctY[i]} r={0} fill="none" stroke="none" label={<PointText value={pctLabels[i]} color="#0000ff" size={18} />} />
          ))}
          {pctMonths.map((m, i) => (
            <ReferenceDot key={`s${i}`} x={m} y={starY[i]} r={0} fill="none" stroke="none" label={<PointText value={pctStars[i]} color="#ff0000" size={20} />} />
          ))}
          <ReferenceDot x={47.93} y={21.1} r={0} fill="none" stroke="none" label={<PointText value="c" size={40} />} />
          <ReferenceArea x1={X_DOMAIN[0]} x2={X_DOMAIN[1]} y1={-30} y2={30} fill="none" stroke="#000" strokeWidth={2} />
        </ComposedChart>
      </div>
    </div>
  );
}
